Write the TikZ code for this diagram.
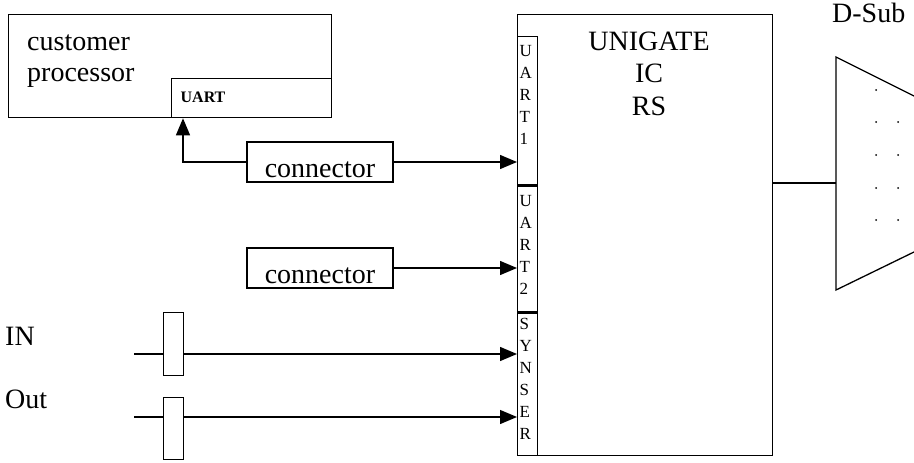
\documentclass[tikz,border=0pt]{standalone}
\usepackage{fontspec}
\setmainfont{Liberation Serif}
\usetikzlibrary{arrows.meta}
\begin{document}
\begin{tikzpicture}[x=1pt,y=-1pt,
  every node/.style={inner sep=0pt},
  box/.style={draw,line width=1.3pt},
  wire/.style={line width=1.3pt},
  arr/.style={wire,-{Triangle[length=17pt,width=14pt]}},
  big/.style={font=\fontsize{28}{32}\selectfont},
  small/.style={font=\fontsize{17}{22}\selectfont}]
\useasboundingbox (0,0) rectangle (914,463);
\clip (0,0) rectangle (914,463);
% customer processor
\node[box,anchor=north west,minimum width=323pt,minimum height=103pt] (cp) at (8,14) {};
\node[big,anchor=base west] (cpt) at (27,50) {\parbox[t]{140pt}{\raggedright customer\\processor}};
\node[box,anchor=north west,inner xsep=9pt,text width=142pt,align=left,text height=24pt,text depth=15pt,font=\fontsize{16}{20}\selectfont\bfseries] (uart) at (171,78) {UART};
% connectors
\node[box,big,minimum width=146pt,text height=35pt,text depth=5pt] (c1) at (320,162) {connector};
\node[box,big,minimum width=146pt,text height=35pt,text depth=5pt] (c2) at (320,268) {connector};
% UNIGATE
\node[box,anchor=north west,minimum width=255pt,minimum height=441pt] (ug) at (517,14) {};
\node[big,anchor=base] (ugt) at (649,50) {\parbox[t]{160pt}{\centering\fontsize{28}{32.5}\selectfont UNIGATE\\IC\\RS}};
\node[box,small,anchor=north west,inner xsep=2pt,text width=16pt,align=left,text height=20pt,text depth=128pt] (s1) at (517,36) {\parbox[t]{16pt}{U\\A\\R\\T\\1}};
\node[box,small,anchor=north west,inner xsep=2pt,text width=16pt,align=left,text height=22pt,text depth=105pt] (s2) at (517,184) {\parbox[t]{16pt}{U\\A\\R\\T\\2}};
\node[box,small,anchor=north west,inner xsep=2pt,text width=16pt,align=left,text height=18pt,text depth=126pt] (s3) at (517,311) {\parbox[t]{16pt}{S\\Y\\N\\S\\E\\R}};
\draw[line width=2.6pt] (s1.south west) -- (s1.south east);
\draw[line width=2.6pt] (s2.south west) -- (s2.south east);
% IN / Out
\node[big,anchor=base west] (inl) at (5,345) {IN};
\node[big,anchor=base west] (outl) at (5,408) {Out};
\node[box,anchor=north west,minimum width=20pt,minimum height=63pt] (p1) at (163,312) {};
\node[box,anchor=north west,minimum width=20pt,minimum height=62pt] (p2) at (163,397) {};
\coordinate (in0) at (134,354);
\coordinate (out0) at (134,417);
\draw[wire] (in0) -- (in0 -| p1.west);
\draw[arr] (in0 -| p1.east) -- (in0 -| s3.west);
\draw[wire] (out0) -- (out0 -| p2.west);
\draw[arr] (out0 -| p2.east) -- (out0 -| s3.west);
% connector arrows
\draw[arr] (c1.west) -| ([xshift=12pt]uart.south west);
\draw[arr] (c1.east) -- (c1.east -| s1.west);
\draw[arr] (c2.east) -- (c2.east -| s2.west);
% D-Sub
\node[big,anchor=base west] (dsl) at (832,23) {D-Sub};
\draw[wire] (914,96) -- (836,57) -- (836,290) -- (914,252);
\coordinate (dl) at (836,183);
\draw[wire] (dl -| ug.east) -- (dl);
\foreach \p in {(876,90),(876,122),(898,122),(876,155),(898,155),(876,188),(898,188),(876,220),(898,220)}
  \fill \p circle (1pt);
\end{tikzpicture}
\end{document}
